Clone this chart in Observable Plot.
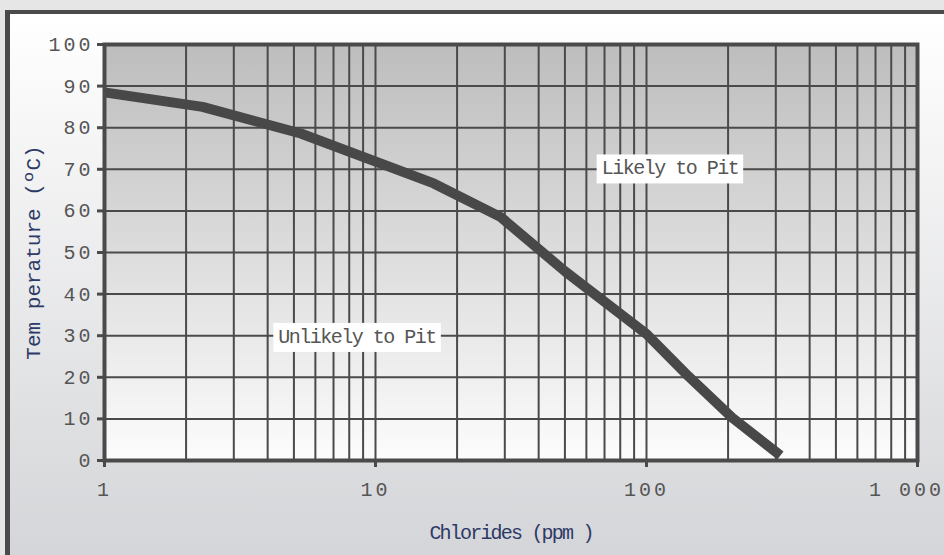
<!DOCTYPE html>
<html><head><meta charset="utf-8">
<script src="https://cdn.jsdelivr.net/npm/d3@7"></script>
<script src="https://cdn.jsdelivr.net/npm/@observablehq/plot@0.6"></script>
<style>
html,body{margin:0;padding:0;background:#e6e6e6;overflow:hidden;width:944px;height:555px}
#deco{position:absolute;left:5px;top:10px;width:1000px;height:545px;border-left:5px solid #4b4b4b;border-top:4px solid #4b4b4b;background:linear-gradient(#ffffff,#d4d5d8);}
#chart{position:absolute;left:0;top:0}
</style></head><body><div id="deco"></div><div id="chart"></div>
<script>
// Curve: chlorides (ppm) vs temperature (°C)
const chlorides   = [1,    2.3, 5.3,  16.4, 29,   50,   100,  143,  207,  312];
const temperature = [88.5, 85,  78.6, 66.6, 58.5, 45.5, 30.4, 20.2, 10.3, 1.2];

const xGrid = [1,2,3,4,5,6,7,8,9,10,20,30,40,50,60,70,80,90,100,200,300,400,500,600,700,800,900,1000];
const xTicks = [1, 10, 100, 1000];
const xTickLabels = ["1", "10", "100", "1 000"];
const yTicks = [0,10,20,30,40,50,60,70,80,90,100];

const regionLabels = ["Likely to Pit", "Unlikely to Pit"];
const regionX = [122, 8.55];
const regionY = [70.3, 29.8];

const xTitle = "Chlorides (ppm )";
const yTitle = "Tem perature (ºC)";

const curve = chlorides.map((c, i) => ({c, t: temperature[i]}));
const regions = regionLabels.map((label, i) => ({label, x: regionX[i], y: regionY[i]}));
const gridColor = "#4a4a4a";

const plot = Plot.plot({
  width: 944, height: 555,
  marginLeft: 104, marginRight: 27, marginTop: 44, marginBottom: 95,
  style: {background: "transparent", overflow: "visible", fontFamily: "'Liberation Mono', monospace"},
  x: {type: "log", domain: [1, 1000], axis: null},
  y: {domain: [0, 100], axis: null},
  marks: [
    Plot.frame({fill: "url(#plotBg)", stroke: "none"}),
    Plot.gridX(xGrid, {stroke: gridColor, strokeOpacity: 1, strokeWidth: 2}),
    Plot.gridY(yTicks, {stroke: gridColor, strokeOpacity: 1, strokeWidth: 2}),
    Plot.line(curve, {x: "c", y: "t", stroke: "#484848", strokeWidth: 10, strokeLinecap: "butt", strokeLinejoin: "round"}),
    Plot.text(regions, {x: "x", y: "y", text: "label", fontSize: 20, fill: "#555"}),
    Plot.frame({stroke: gridColor, strokeWidth: 4}),
    Plot.axisY(yTicks, {tickSize: 7, tickPadding: 4, fontSize: 20, fill: "#555", stroke: gridColor, strokeWidth: 3}),
    Plot.axisX(xTicks, {tickSize: 7, tickPadding: 14, fontSize: 20, fill: "#555", stroke: gridColor, strokeWidth: 3,
      tickFormat: d => xTickLabels[xTicks.indexOf(d)]}),
    Plot.text([yTitle], {frameAnchor: "left", textAnchor: "middle", lineAnchor: "middle", rotate: -90, dx: -71, fontSize: 21, fill: "#2d3966"}),
    Plot.text([xTitle], {frameAnchor: "bottom", textAnchor: "middle", lineAnchor: "middle", dy: 72, fontSize: 20, fill: "#2d3966"})
  ]
});

// gradient for plot area
const ns = "http://www.w3.org/2000/svg";
const defs = document.createElementNS(ns, "defs");
defs.innerHTML = '<linearGradient id="plotBg" x1="0" y1="0" x2="0" y2="1"><stop offset="0" stop-color="#bdbdbe"/><stop offset="1" stop-color="#fcfcfc"/></linearGradient>';
plot.insertBefore(defs, plot.firstChild);
document.getElementById("chart").appendChild(plot);

const allText = Array.from(plot.querySelectorAll("text"));
allText.forEach(t => {
  const s = t.textContent;
  if (/^[0-9 ]+$/.test(s)) t.style.letterSpacing = "3px";
  if (s === "1 000") t.setAttribute("dx", -11);
  if (s === xTitle) t.style.letterSpacing = "-1.8px";
});
allText.filter(t => regionLabels.includes(t.textContent)).forEach(t => {
  t.style.letterSpacing = "-1.5px";
  const b = t.getBBox();
  const r = document.createElementNS(ns, "rect");
  r.setAttribute("x", b.x - 5);
  r.setAttribute("y", b.y - 3);
  r.setAttribute("width", b.width + 10);
  r.setAttribute("height", b.height + 6);
  r.setAttribute("fill", "#ffffff");
  const tr = t.getAttribute("transform");
  if (tr) r.setAttribute("transform", tr);
  t.parentNode.insertBefore(r, t);
});
</script>
</body></html>
